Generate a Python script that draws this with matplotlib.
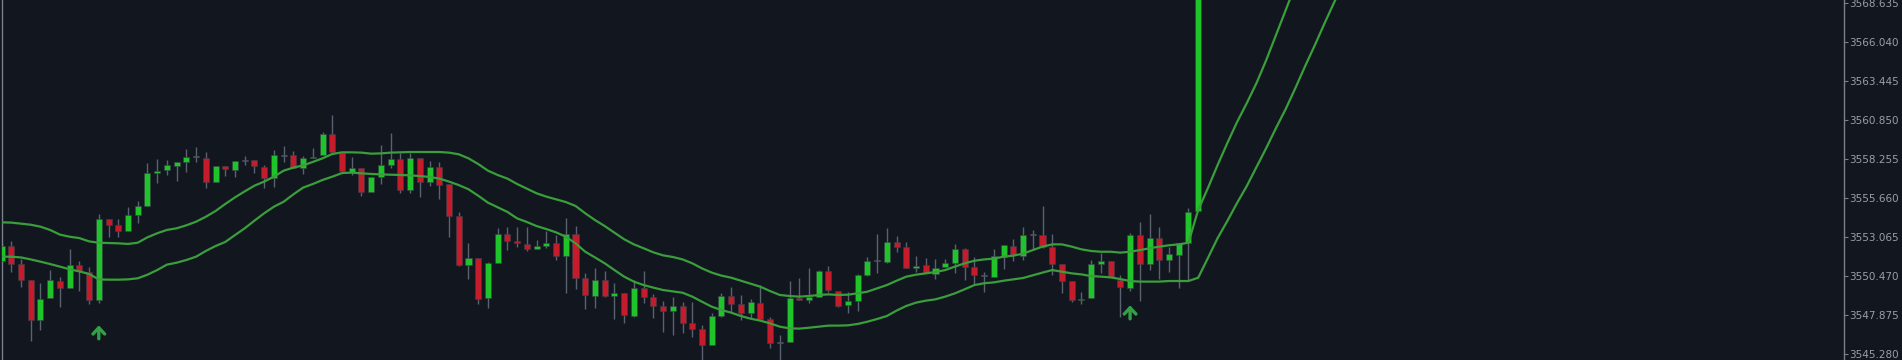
import numpy as np
import matplotlib
matplotlib.use("Agg")
import matplotlib.pyplot as plt

# --- chart data (prices) ---
opens = [3551.49, 3552.49, 3551.27, 3550.21, 3547.52, 3549.01, 3550.14, 3549.70, 3551.21, 3550.74,
         3548.90, 3554.27, 3553.89, 3553.45, 3554.56, 3555.16, 3557.36, 3557.51, 3557.82, 3558.04,
         3558.38, 3558.35, 3556.76, 3557.82, 3557.56, 3558.15, 3558.18, 3557.75, 3557.02, 3558.49,
         3558.51, 3557.64, 3558.35, 3558.51, 3559.91, 3558.69, 3557.42, 3557.64, 3556.09, 3557.09,
         3557.87, 3558.24, 3556.20, 3558.35, 3556.76, 3557.75, 3556.58, 3554.49, 3551.21, 3551.65,
         3549.01, 3551.36, 3553.27, 3552.80, 3552.61, 3552.29, 3552.49, 3552.65, 3551.81, 3553.27,
         3550.32, 3549.16, 3550.19, 3549.14, 3549.34, 3547.83, 3549.70, 3549.10, 3548.48, 3548.16,
         3548.48, 3547.37, 3546.92, 3545.88, 3547.83, 3549.14, 3548.59, 3547.99, 3548.70, 3547.61,
         3546.04, 3546.06, 3549.03, 3548.85, 3549.05, 3550.83, 3549.50, 3548.52, 3548.79, 3550.54,
         3551.45, 3551.41, 3552.74, 3552.38, 3551.01, 3551.21, 3550.61, 3551.05, 3551.32, 3552.25,
         3551.05, 3550.50, 3550.43, 3551.76, 3552.49, 3551.83, 3553.22, 3553.23, 3552.38, 3551.27,
         3550.16, 3548.87, 3548.99, 3551.25, 3551.47, 3550.19, 3549.70, 3553.20, 3551.27, 3552.98,
         3551.52, 3551.87, 3552.65, 3554.80]
highs = [3552.65, 3552.78, 3551.58, 3550.21, 3550.03, 3550.87, 3550.43, 3552.29, 3551.47, 3551.05,
         3554.60, 3554.27, 3554.27, 3555.09, 3555.47, 3557.98, 3558.24, 3558.20, 3558.09, 3558.93,
         3559.09, 3558.75, 3557.80, 3557.82, 3558.15, 3558.49, 3558.18, 3557.87, 3558.87, 3559.13,
         3558.82, 3558.49, 3558.98, 3560.04, 3561.20, 3558.75, 3558.38, 3557.64, 3557.09, 3559.20,
         3560.02, 3558.64, 3558.69, 3558.35, 3558.15, 3558.07, 3556.58, 3554.71, 3552.65, 3551.65,
         3551.43, 3553.65, 3553.71, 3553.76, 3553.76, 3552.87, 3553.47, 3553.20, 3554.36, 3553.80,
         3550.65, 3550.98, 3550.81, 3550.03, 3549.34, 3550.21, 3550.81, 3549.27, 3548.81, 3549.10,
         3548.77, 3548.77, 3547.21, 3547.99, 3549.32, 3549.76, 3549.18, 3548.92, 3549.87, 3547.77,
         3546.54, 3550.14, 3550.32, 3550.98, 3550.87, 3551.14, 3549.50, 3549.43, 3550.61, 3551.72,
         3553.25, 3553.69, 3553.14, 3552.76, 3551.81, 3551.65, 3551.58, 3551.58, 3552.58, 3552.32,
         3551.76, 3550.72, 3552.27, 3552.54, 3552.96, 3553.76, 3553.54, 3555.14, 3553.25, 3551.27,
         3550.16, 3549.38, 3551.54, 3552.03, 3551.47, 3550.54, 3553.32, 3554.09, 3554.60, 3553.76,
         3552.43, 3552.70, 3555.02, 3575.00]
lows = [3551.32, 3550.72, 3549.72, 3546.12, 3546.88, 3549.01, 3548.39, 3549.70, 3549.50, 3548.63,
        3548.70, 3553.09, 3553.09, 3553.45, 3554.03, 3555.16, 3556.69, 3557.18, 3556.80, 3557.42,
        3558.09, 3556.36, 3556.71, 3557.13, 3557.09, 3557.87, 3557.36, 3556.31, 3556.38, 3558.09,
        3557.69, 3557.27, 3558.31, 3558.51, 3558.69, 3557.42, 3557.20, 3555.82, 3556.09, 3556.60,
        3557.64, 3556.02, 3556.02, 3555.76, 3556.49, 3555.62, 3553.05, 3551.16, 3550.25, 3548.61,
        3548.32, 3551.32, 3552.20, 3552.43, 3552.16, 3552.29, 3552.36, 3551.54, 3549.32, 3549.61,
        3548.28, 3548.37, 3549.05, 3547.59, 3547.32, 3547.72, 3548.70, 3547.70, 3546.72, 3546.54,
        3546.66, 3546.39, 3544.88, 3545.88, 3547.77, 3548.10, 3547.54, 3547.65, 3547.61, 3545.66,
        3544.80, 3546.06, 3548.87, 3548.65, 3549.05, 3549.38, 3548.39, 3547.99, 3548.17, 3550.50,
        3550.65, 3551.32, 3552.09, 3550.98, 3550.76, 3550.70, 3550.25, 3551.05, 3550.65, 3550.21,
        3549.87, 3549.43, 3550.38, 3550.94, 3551.47, 3551.54, 3552.20, 3552.32, 3550.54, 3549.36,
        3548.76, 3548.59, 3548.99, 3550.65, 3550.43, 3547.77, 3549.50, 3548.83, 3550.87, 3550.27,
        3550.72, 3549.65, 3550.21, 3554.80]
closes = [3552.49, 3551.27, 3550.21, 3547.52, 3548.96, 3550.19, 3549.70, 3551.23, 3550.78, 3548.90,
          3554.25, 3553.85, 3553.45, 3554.56, 3555.16, 3557.36, 3557.49, 3557.84, 3558.04, 3558.38,
          3558.38, 3556.71, 3557.80, 3557.60, 3558.11, 3558.15, 3557.78, 3556.98, 3558.53, 3558.49,
          3557.69, 3558.31, 3558.42, 3559.95, 3558.75, 3557.47, 3557.64, 3556.09, 3557.09, 3557.87,
          3558.24, 3556.20, 3558.31, 3556.76, 3557.75, 3556.53, 3554.49, 3551.21, 3551.65, 3548.96,
          3551.36, 3553.27, 3552.80, 3552.65, 3552.25, 3552.45, 3552.65, 3551.81, 3553.27, 3550.32,
          3549.21, 3550.19, 3549.12, 3549.34, 3547.88, 3549.70, 3549.10, 3548.48, 3548.16, 3548.48,
          3547.37, 3546.92, 3545.88, 3547.83, 3549.14, 3548.59, 3547.99, 3548.74, 3547.61, 3545.99,
          3546.04, 3548.99, 3548.87, 3549.05, 3550.83, 3549.54, 3548.50, 3548.79, 3550.54, 3551.47,
          3551.45, 3552.74, 3552.43, 3550.98, 3551.16, 3550.70, 3551.03, 3551.32, 3552.25, 3551.10,
          3550.52, 3550.50, 3551.81, 3552.54, 3551.87, 3553.20, 3553.22, 3552.43, 3551.27, 3550.16,
          3548.85, 3548.94, 3551.25, 3551.47, 3550.43, 3549.72, 3553.20, 3551.27, 3552.98, 3551.52,
          3551.92, 3552.70, 3554.71, 3574.50]

# two moving-average bands (they keep going after the last visible candle)
ma_upper = [3554.05, 3554.03, 3553.96, 3553.89, 3553.76, 3553.54, 3553.23, 3553.09, 3553.00, 3552.78,
            3552.69, 3552.67, 3552.65, 3552.61, 3552.69, 3553.05, 3553.32, 3553.54, 3553.65, 3553.85,
            3554.09, 3554.42, 3554.80, 3555.27, 3555.71, 3556.11, 3556.49, 3556.76, 3557.09, 3557.49,
            3557.69, 3557.84, 3558.07, 3558.31, 3558.60, 3558.71, 3558.71, 3558.69, 3558.62, 3558.64,
            3558.69, 3558.71, 3558.73, 3558.73, 3558.73, 3558.73, 3558.69, 3558.58, 3558.31, 3557.93,
            3557.49, 3557.20, 3556.96, 3556.60, 3556.29, 3555.98, 3555.76, 3555.58, 3555.40, 3555.14,
            3554.65, 3554.20, 3553.80, 3553.36, 3552.92, 3552.58, 3552.32, 3552.05, 3551.85, 3551.74,
            3551.58, 3551.32, 3550.98, 3550.70, 3550.50, 3550.36, 3550.16, 3549.96, 3549.76, 3549.47,
            3549.21, 3549.14, 3549.10, 3549.14, 3549.21, 3549.25, 3549.21, 3549.23, 3549.32, 3549.43,
            3549.65, 3549.87, 3550.16, 3550.43, 3550.56, 3550.65, 3550.74, 3550.87, 3551.10, 3551.32,
            3551.49, 3551.58, 3551.63, 3551.76, 3551.83, 3551.96, 3552.20, 3552.43, 3552.58, 3552.58,
            3552.43, 3552.25, 3552.14, 3552.09, 3552.09, 3552.03, 3552.09, 3552.20, 3552.32, 3552.43,
            3552.52, 3552.58, 3552.69, 3554.87, 3556.33, 3557.87, 3559.33, 3560.73, 3561.99, 3563.33,
            3564.86, 3566.52, 3568.19, 3569.85]
ma_lower = [3551.76, 3551.76, 3551.71, 3551.58, 3551.43, 3551.27, 3551.10, 3550.92, 3550.78, 3550.61,
            3550.25, 3550.23, 3550.23, 3550.25, 3550.32, 3550.56, 3550.87, 3551.23, 3551.36, 3551.54,
            3551.76, 3552.14, 3552.47, 3552.74, 3553.20, 3553.65, 3554.16, 3554.65, 3555.09, 3555.42,
            3555.91, 3556.36, 3556.60, 3556.87, 3557.09, 3557.33, 3557.36, 3557.31, 3557.27, 3557.24,
            3557.22, 3557.20, 3557.18, 3557.13, 3557.07, 3556.96, 3556.76, 3556.53, 3556.25, 3555.82,
            3555.36, 3555.05, 3554.74, 3554.31, 3554.07, 3553.80, 3553.60, 3553.38, 3553.09, 3552.65,
            3552.09, 3551.71, 3551.32, 3550.87, 3550.43, 3550.10, 3549.87, 3549.70, 3549.54, 3549.45,
            3549.36, 3549.10, 3548.76, 3548.43, 3548.21, 3548.03, 3547.81, 3547.63, 3547.50, 3547.32,
            3547.10, 3546.99, 3546.97, 3547.03, 3547.10, 3547.17, 3547.17, 3547.19, 3547.28, 3547.43,
            3547.61, 3547.81, 3548.17, 3548.48, 3548.70, 3548.83, 3548.92, 3549.10, 3549.32, 3549.59,
            3549.87, 3549.99, 3550.05, 3550.16, 3550.25, 3550.34, 3550.52, 3550.70, 3550.87, 3550.76,
            3550.65, 3550.58, 3550.47, 3550.43, 3550.38, 3550.27, 3550.14, 3550.10, 3550.10, 3550.10,
            3550.14, 3550.14, 3550.14, 3550.36, 3551.67, 3553.00, 3554.14, 3555.34, 3556.47, 3557.73,
            3559.00, 3560.33, 3561.60, 3563.00, 3564.46, 3565.86, 3567.32, 3568.72, 3570.19]

# buy signal arrows (candle index, price at arrow centre)
signal_idx = [10, 116]
signal_price = [3546.74, 3548.07]

price_ticks = [3545.280, 3547.875, 3550.470, 3553.065, 3555.660,
               3558.255, 3560.850, 3563.445, 3566.040, 3568.635]

BG = '#12161f'
UP = '#1fc32a'
DOWN = '#c41c2b'
DOJI = '#8a8f99'
WICK = '#5a6170'
MA_COLOR = '#3a9e3c'
ARROW = '#32a044'
AXIS = '#7c8089'

fig = plt.figure(figsize=(19.02, 3.6), dpi=100, facecolor=BG)
ax = fig.add_axes([1.5 / 1902, 0, (1843.7 - 1.5) / 1902, 1])
ax.set_facecolor(BG)

x = np.arange(len(opens))
o = np.array(opens)
c = np.array(closes)

# wicks
ax.vlines(x, lows, highs, color=WICK, linewidth=1.0, zorder=2)

# bodies
colors = [UP if cc > oo else (DOWN if cc < oo else DOJI) for oo, cc in zip(o, c)]
bottoms = np.minimum(o, c)
heights = np.maximum(np.abs(c - o), 0.07)
ax.bar(x, heights, bottom=bottoms, width=0.62, color=colors,
       edgecolor='#3a3f4a', linewidth=0.4, zorder=3)

# moving averages
ax.plot(np.arange(len(ma_upper)), ma_upper, color=MA_COLOR, linewidth=1.6, zorder=4)
ax.plot(np.arange(len(ma_lower)), ma_lower, color=MA_COLOR, linewidth=1.6, zorder=4)

# signal arrows (chevron head + stem)
half = 0.45
for si, sp in zip(signal_idx, signal_price):
    ax.annotate('', xy=(si, sp + half), xytext=(si, sp - half),
                arrowprops=dict(arrowstyle='->, head_width=0.42, head_length=0.45',
                                color=ARROW, lw=2.4, shrinkA=0, shrinkB=0),
                zorder=5)

ax.set_xlim(0, 189.35)
ax.set_ylim(3544.88, 3568.855)

ax.yaxis.tick_right()
ax.set_yticks(price_ticks)
ax.set_yticklabels([f'{t:.3f}' for t in price_ticks])
ax.tick_params(axis='y', direction='out', length=3, width=0.8, color=AXIS,
               labelcolor='#9a9ea6', labelsize=7.5, pad=1)
ax.set_xticks([])
for name in ['top', 'bottom']:
    ax.spines[name].set_visible(False)
for name in ['left', 'right']:
    ax.spines[name].set_color(AXIS)
    ax.spines[name].set_linewidth(1.0)

fig.savefig('out.png', dpi=100, facecolor=BG)
